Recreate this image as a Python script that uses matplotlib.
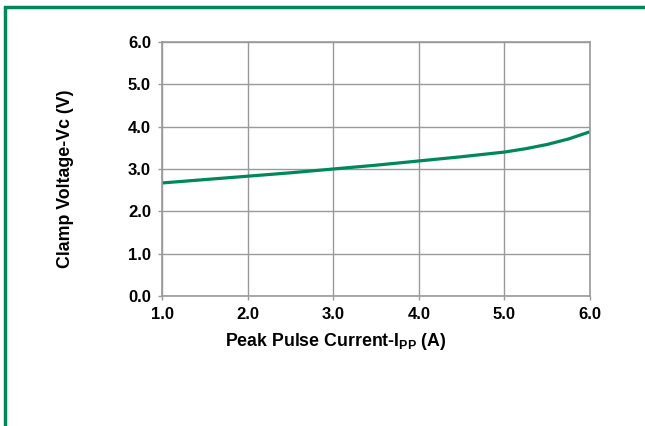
import numpy as np
import matplotlib.pyplot as plt
from matplotlib.patches import Rectangle

plt.rcParams['font.family'] = ['Liberation Sans', 'DejaVu Sans']
plt.rcParams['mathtext.fontset'] = 'custom'
plt.rcParams['mathtext.rm'] = 'Liberation Sans:bold'
plt.rcParams['mathtext.bf'] = 'Liberation Sans:bold'

# Data
ipp = [1.0, 1.5, 2.0, 2.5, 3.0, 3.5, 4.0, 4.5, 5.0, 5.25, 5.5, 5.75, 6.0]
vc = [2.67, 2.75, 2.83, 2.91, 3.00, 3.09, 3.19, 3.29, 3.40, 3.48, 3.58, 3.71, 3.88]
x_ticks = [1.0, 2.0, 3.0, 4.0, 5.0, 6.0]
y_ticks = [0.0, 1.0, 2.0, 3.0, 4.0, 5.0, 6.0]

green = '#00875A'
grid_gray = '#9a9a9a'

W, H = 645, 426
fig = plt.figure(figsize=(W / 100, H / 100), dpi=100)
ax = fig.add_axes([162 / W, 1 - 296 / H, 428 / W, 254 / H])

ax.plot(ipp, vc, color=green, lw=2.3, solid_capstyle='butt')
ax.set_xlim(1, 6)
ax.set_ylim(0, 6)
ax.set_xticks(x_ticks)
ax.set_yticks(y_ticks)
ax.set_xticklabels([f'{t:.1f}' for t in x_ticks], fontweight='bold', fontsize=12)
ax.set_yticklabels([f'{t:.1f}' for t in y_ticks], fontweight='bold', fontsize=12)
ax.grid(True, color=grid_gray, lw=1)
ax.set_axisbelow(True)
for s in ax.spines.values():
    s.set_color(grid_gray)
    s.set_linewidth(1.2)
ax.tick_params(colors=grid_gray, labelcolor='black', length=3, width=1, pad=5)

# axis titles placed where they sit in the original
fig.text(336 / W, 1 - 342 / H, r'Peak Pulse Current-I$_{\mathbf{PP}}$ (A)',
         fontweight='bold', fontsize=12.8, ha='center', va='center')
fig.text(65 / W, 1 - 179 / H, 'Clamp Voltage-Vc (V)', fontweight='bold',
         fontsize=12.8, ha='center', va='center', rotation=90)

# green frame (top and left only visible)
fig.patches.append(Rectangle((5 / W, -0.1), 1.2, 1.1 - 7 / H,
                             transform=fig.transFigure, fill=False,
                             edgecolor=green, lw=2.5))

fig.savefig('out.png', dpi=100)
